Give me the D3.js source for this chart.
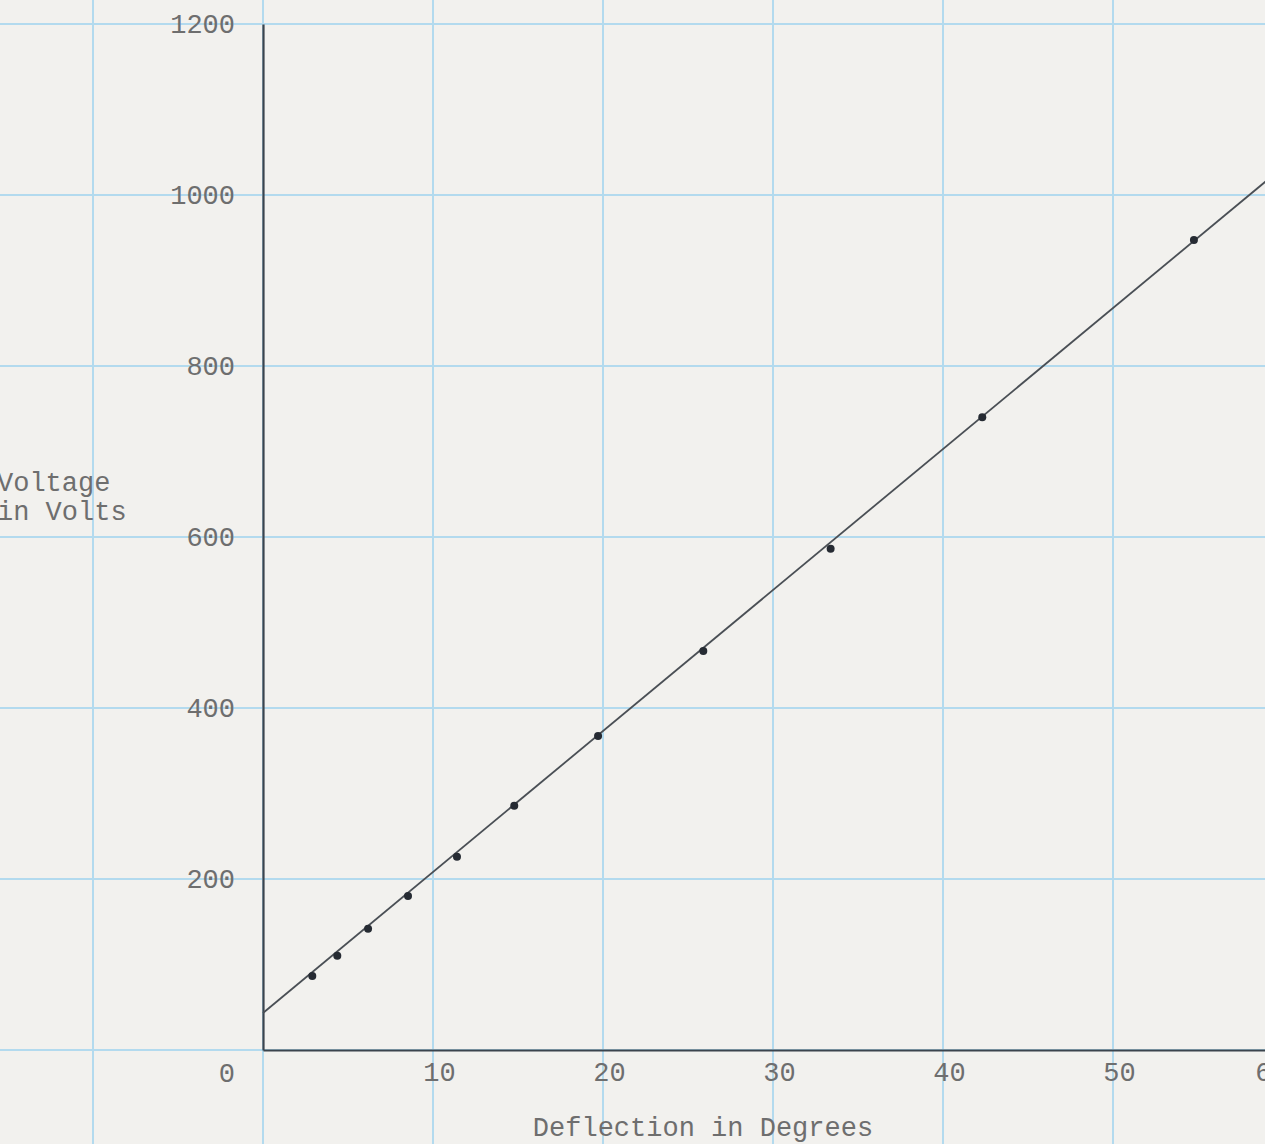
<style>
body {margin:0; background:#f2f1ee;}
#chart {background:#f2f1ee; display:block;}
#chart text {fill:#6e6e6e; font-family:'Liberation Mono',monospace; font-size:27px;}
.grid line {stroke:#b3daee; stroke-width:2;}
.axis path {stroke:#3b444d; stroke-width:2.2;}
.axis line {display:none;}
</style>
<script src='https://d3js.org/d3.v7.min.js'></script>
<svg id='chart'></svg><script>
var W=1265,H=1144;
// deflection (degrees) and voltage (volts)
var deflection=[2.9,4.37,6.18,8.53,11.41,14.78,19.71,25.9,33.39,42.31,54.76];
var voltage=[86.5,110.3,141.9,180.1,226.1,285.7,367.3,466.7,586.3,740,947.4];
// ruled straight line through the points (end points in data units)
var fitDeg=[0,60], fitVolt=[43.3,1032.7];
var xTicks=[10,20,30,40,50,60],
    yTicks=[0,200,400,600,800,1000,1200];
var xGrid=[-10,0,10,20,30,40,50,60],
    yGrid=[0,200,400,600,800,1000,1200];

var x=d3.scaleLinear().domain([0,60]).range([263,1283]),
    y=d3.scaleLinear().domain([0,1200]).range([1050,24]);

var svg=d3.select('#chart').attr('width',W).attr('height',H);

var grid=svg.append('g').attr('class','grid');
grid.selectAll('.v').data(xGrid).enter().append('line').attr('class','v')
    .attr('x1',d=>x(d)).attr('x2',d=>x(d)).attr('y1',0).attr('y2',H);
grid.selectAll('.h').data(yGrid).enter().append('line').attr('class','h')
    .attr('x1',0).attr('x2',W).attr('y1',d=>y(d)).attr('y2',d=>y(d));

var yAx=svg.append('g').attr('class','axis').attr('transform','translate('+x(0)+',0)')
   .call(d3.axisLeft(y).tickValues(yTicks).tickSize(0).tickSizeOuter(0).tickPadding(28).tickFormat(d3.format('d')));
// the zero sits down on the row of the degree labels
yAx.selectAll('.tick').filter(d=>d===0).select('text').attr('dy','1.15em');

var xAx=svg.append('g').attr('class','axis').attr('transform','translate(0,'+y(0)+')')
   .call(d3.axisBottom(x).tickValues(xTicks).tickSize(0).tickSizeOuter(0).tickPadding(12));
xAx.selectAll('.tick text').attr('x',6);
// typed a little short of its line, and cut by the sheet edge
xAx.selectAll('.tick').filter(d=>d===60).select('text').attr('x',-12);
xAx.attr('font-family',null).attr('font-size',null);
yAx.attr('font-family',null).attr('font-size',null);

svg.append('text').attr('x',703).attr('y',1136).attr('text-anchor','middle')
   .text('Deflection in Degrees');
svg.append('text').attr('x',-3).attr('y',491).text('Voltage');
svg.append('text').attr('x',-3).attr('y',520).text('in Volts');

var fit=fitDeg.map((d,i)=>[d,fitVolt[i]]);
svg.append('path').datum(fit)
   .attr('d',d3.line().x(d=>x(d[0])).y(d=>y(d[1])))
   .attr('fill','none').attr('stroke','#4a4f55').attr('stroke-width',1.8);

var pts=deflection.map((d,i)=>({x:d,y:voltage[i]}));
svg.selectAll('circle').data(pts).enter().append('circle')
   .attr('cx',d=>x(d.x)).attr('cy',d=>y(d.y)).attr('r',4)
   .attr('fill','#262b33');
</script>
